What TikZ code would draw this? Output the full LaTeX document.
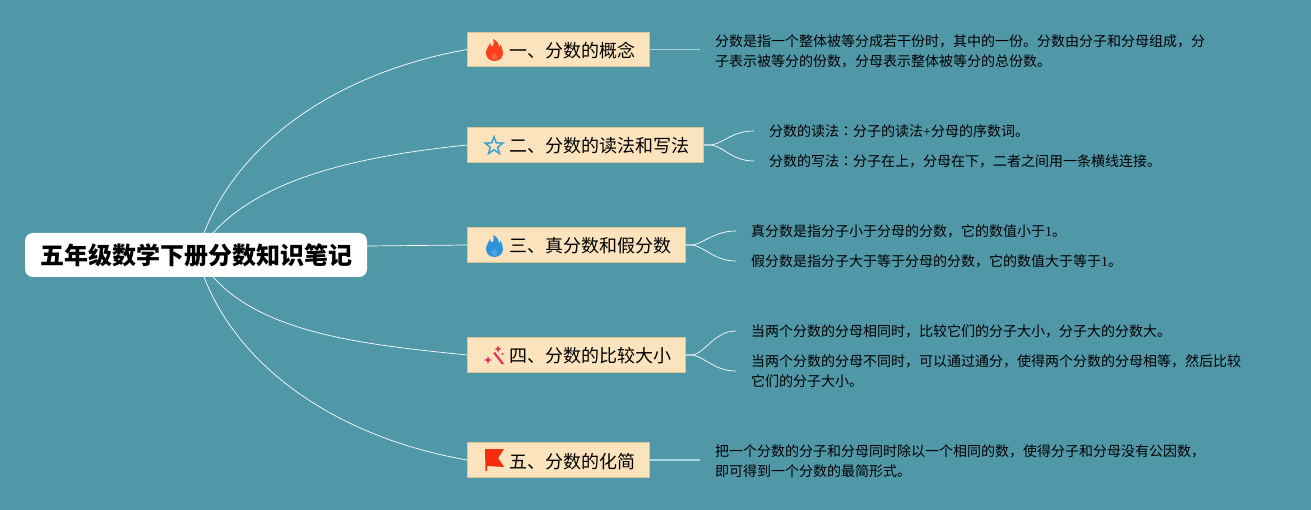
\documentclass[tikz,border=0pt]{standalone}
\usepackage{fontspec}
\usepackage{tikz}
\usetikzlibrary{shapes.geometric}
\setmainfont{Noto Sans CJK SC}
\newfontfamily\tcfont{Noto Sans CJK TC}
\newfontfamily\numfont{Liberation Serif}
\definecolor{sheetbg}{HTML}{5098A8}
\definecolor{boxfill}{HTML}{FBE3BE}
\definecolor{boxline}{HTML}{D9C594}
\definecolor{softline}{HTML}{A9D6E3}
\definecolor{firered}{HTML}{F9401B}
\definecolor{fireblue}{HTML}{2F93DC}
\definecolor{starblue}{HTML}{3BA0D6}
\definecolor{wandred}{HTML}{E9305C}
\definecolor{flagred}{HTML}{F52D0A}
\tikzstyle{rootbox}=[rectangle,rounded corners=8pt,fill=white,
                     text=black,inner sep=0pt,minimum width=342pt,minimum height=44pt,
                     font=\fontsize{24}{24}\selectfont\bfseries]
\tikzstyle{topicbox}=[rectangle,draw=boxline,fill=boxfill,line width=0.8pt,
                      inner sep=0pt,minimum height=34.5pt,text=black,
                      font=\fontsize{18}{18}\selectfont]
\tikzstyle{leaf}=[anchor=west,align=left,inner ysep=0pt,inner xsep=15pt,
                  text=black,font=\fontsize{14}{20}\selectfont]
\tikzstyle{link}=[draw=white,line width=0.7pt]
\tikzstyle{softlink}=[draw=softline,line width=1.5pt]
\begin{document}
\begin{tikzpicture}[x=1pt,y=-1pt]
    \newcommand{\topic}[1]{\hspace*{27pt}\raisebox{-1pt}[16pt][2pt]{#1}}
    \newcommand{\flame}[3]{%
      \fill[#3,shift={(#1,#2)}]
        (0,11) .. controls (-5,11) and (-8.5,7.5) .. (-8.5,3)
        .. controls (-8.5,-1) and (-6,-3) .. (-4.5,-7)
        .. controls (-3.5,-3.5) and (-2.5,-3) .. (-1.5,-4)
        .. controls (-0.5,-6) and (-0.5,-9) .. (-1.5,-11)
        .. controls (3,-9) and (4.5,-6) .. (4.5,-2.5)
        .. controls (5.2,-3) and (5.8,-4) .. (5.8,-5.5)
        .. controls (7.5,-2.5) and (8.5,0.5) .. (8.5,3)
        .. controls (8.5,7.5) and (5,11) .. (0,11) -- cycle;
      \fill[#3!85!white,shift={(#1,#2)}]
        (0,10) .. controls (-2.5,10) and (-3.5,8) .. (-3,6.5)
        .. controls (-2.5,5) and (-1,4.5) .. (0,2.5)
        .. controls (1,4.5) and (2.5,5) .. (3,6.5)
        .. controls (3.5,8) and (2.5,10) .. (0,10) -- cycle;}
    \fill[sheetbg] (0,0) rectangle (1311,510);
    \useasboundingbox (0,0) rectangle (1311,510);
    % centre and topics
    \node (root) at (196,255) [rootbox]{\raisebox{-1pt}[21pt][3pt]{五年级数学下册分数知识笔记}};
    \node (t1) at (558.5,49.5) [topicbox,minimum width=182pt]{\topic{一、分数的概念}};
    \node (t2) at (585.5,145) [topicbox,minimum width=236pt]{\topic{二、分数的读法和写法}};
    \node (t3) at (576.5,245) [topicbox,minimum width=218pt]{\topic{三、真分数和假分数}};
    \node (t4) at (576.5,355) [topicbox,minimum width=218pt]{\topic{四、分数的比较大小}};
    \node (t5) at (558.5,460) [topicbox,minimum width=182pt]{\topic{五、分数的化简}};
    % notes
    \node (n1) at (700,51.5) [leaf]{分数是指一个整体被等分成若干份时，其中的一份。分数由分子和分母组成，分\\子表示被等分的份数，分母表示整体被等分的总份数。};
    \node (n2a) at (754,131) [leaf]{分数的读法{\tcfont ：}分子的读法{\numfont +}分母的序数词。};
    \node (n2b) at (754,161) [leaf]{分数的写法{\tcfont ：}分子在上，分母在下，二者之间用一条横线连接。};
    \node (n3a) at (736,231) [leaf]{真分数是指分子小于分母的分数，它的数值小于{\numfont 1}。};
    \node (n3b) at (736,261) [leaf]{假分数是指分子大于等于分母的分数，它的数值大于等于{\numfont 1}。};
    \node (n4a) at (736,331) [leaf]{当两个分数的分母相同时，比较它们的分子大小，分子大的分数大。};
    \node (n4b) at (736,371) [leaf]{当两个分数的分母不同时，可以通过通分，使得两个分数的分母相等，然后比较\\它们的分子大小。};
    \node (n5) at (700,461.5) [leaf]{把一个分数的分子和分母同时除以一个相同的数，使得分子和分母没有公因数，\\即可得到一个分数的最简形式。};
    % connectors
    \coordinate (up1) at (204,233);
    \coordinate (up2) at (213,233);
    \coordinate (down1) at (204,277);
    \coordinate (down2) at (213,277);
    \draw[link] (up1) .. controls (240,140) and (340,72) .. (t1.west);
    \draw[link] (up2) .. controls (265,175) and (370,155) .. (t2.west);
    \draw[link] (root.east) ++(0,-9) -- (t3.west);
    \draw[link] (down2) .. controls (265,335) and (370,345) .. (t4.west);
    \draw[link] (down1) .. controls (240,370) and (340,438) .. (t5.west);
    \draw[softlink] (t1.east) -- (t1.east -| n1.west);
    \draw[softlink] (t5.east) -- (t5.east -| n5.west);
    \draw[link] (t2.east) -- ++(8,0) .. controls +(13,-3) and +(-21,0) .. (n2a.west);
    \draw[link] (t2.east) -- ++(8,0) .. controls +(13,3) and +(-21,0) .. (n2b.west);
    \draw[link] (t3.east) -- ++(7,0) .. controls +(13,-3) and +(-21,0) .. (n3a.west);
    \draw[link] (t3.east) -- ++(7,0) .. controls +(13,3) and +(-21,0) .. (n3b.west);
    \draw[link] (t4.east) -- ++(7,0) .. controls +(13,-3) and +(-21,0) .. (n4a.west);
    \draw[link] (t4.east) -- ++(7,0) .. controls +(13,3) and +(-21,0) .. (n4b.west);
    % icons
    \flame{494.5}{50}{firered}
    \node (star2) at (494,146) [star,star points=5,star point ratio=2.4,draw=starblue,
                                line width=1.5pt,inner sep=0pt,minimum size=18.5pt]{};
    \flame{494.5}{246}{fireblue}
    \draw[wandred,line width=2.2pt] (494,352.5) -- (503,364);
    \fill[wandred] (498,345.5) -- (499,348) -- (501.5,349) -- (499,350) -- (498,352.5)
                   -- (497,350) -- (494.5,349) -- (497,348) -- cycle;
    \fill[wandred] (488,356.5) -- (489.2,359) -- (492,360) -- (489.2,361) -- (488,364)
                   -- (486.8,361) -- (484,360) -- (486.8,359) -- cycle;
    \fill[wandred] (502.5,354) circle (1.2);
    \fill[flagred] (485,449) -- (504,449) -- (498,458) -- (504,467) -- (487,466)
                   -- (487,471) -- (485.5,471) -- cycle;
\end{tikzpicture}
\end{document}
